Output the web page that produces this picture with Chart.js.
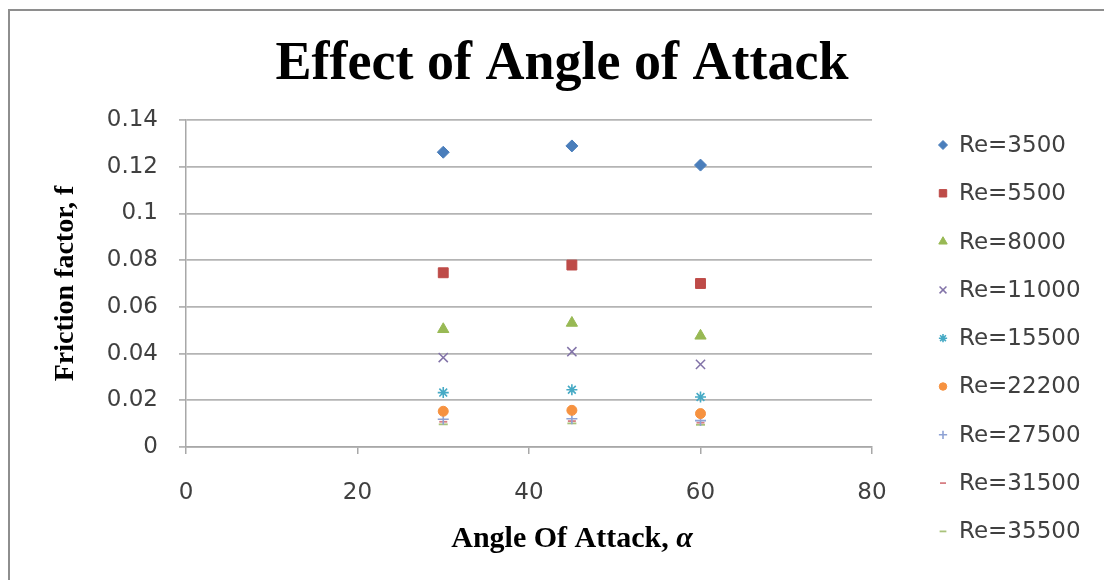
<!DOCTYPE html>
<html>
<head>
<meta charset="utf-8">
<title>Effect of Angle of Attack</title>
<script src="https://cdn.jsdelivr.net/npm/chart.js@4/dist/chart.umd.min.js"></script>
<style>
  html, body { margin: 0; padding: 0; background: #ffffff; }
  #wrap { position: relative; width: 1104px; height: 580px; overflow: hidden; background: #ffffff; }
  #wrap canvas { position: absolute; left: 0; top: 0; }
  #frame {
    position: absolute; left: 8px; top: 9px; right: -10px; bottom: -10px;
    border-top: 2px solid #8e8e8e; border-left: 2px solid #8e8e8e;
    pointer-events: none;
  }
</style>
</head>
<body>
<div id="wrap">
  <canvas id="chart" width="1104" height="580"></canvas>
  <div id="frame"></div>
</div>
<script>
// Angle of attack (degrees) on the x axis
const angles = [30, 45, 60];

// Series names (Reynolds number)
const seriesNames = ['Re=3500', 'Re=5500', 'Re=8000', 'Re=11000', 'Re=15500',
                     'Re=22200', 'Re=27500', 'Re=31500', 'Re=35500'];

// Friction factor f at each angle, one array per Reynolds number
const fRe3500  = [0.1262, 0.1289, 0.1207];
const fRe5500  = [0.0746, 0.0779, 0.0700];
const fRe8000  = [0.0504, 0.0531, 0.0476];
const fRe11000 = [0.0383, 0.0408, 0.0354];
const fRe15500 = [0.0233, 0.0245, 0.0214];
const fRe22200 = [0.0153, 0.0157, 0.0143];
const fRe27500 = [0.0119, 0.0121, 0.0113];
const fRe31500 = [0.0108, 0.0111, 0.0104];
const fRe35500 = [0.0097, 0.0101, 0.0095];

// Axis tick labels
const yTickLabels = ['0', '0.02', '0.04', '0.06', '0.08', '0.1', '0.12', '0.14'];
const xTickLabels = ['0', '20', '40', '60', '80'];

// Marker look for each series
const seriesValues = [fRe3500, fRe5500, fRe8000, fRe11000, fRe15500, fRe22200, fRe27500, fRe31500, fRe35500];
const markerStyles = ['rectRot', 'rect', 'triangle', 'crossRot', 'star', 'circle', 'cross', 'line', 'line'];
const markerColors = ['#4a7ebb', '#be4b48', '#98b954', '#8273a8', '#46aac5', '#f69240', '#8ea2d4', '#d77f84', '#a9c27a'];
const markerSizes  = [6, 7, 6.5, 6.5, 5.5, 5, 5.5, 4, 4.5];
const markerLines  = [1, 1, 1, 1.5, 1.6, 1, 1.6, 1.8, 1.8];

const datasets = seriesNames.map((name, i) => ({
  label: name,
  data: angles.map((a, j) => ({ x: a, y: seriesValues[i][j] })),
  pointStyle: markerStyles[i],
  pointRadius: markerSizes[i],
  pointHoverRadius: markerSizes[i],
  backgroundColor: markerColors[i],
  borderColor: markerColors[i],
  pointBorderWidth: markerLines[i],
  showLine: false
}));

const SERIF = "'Liberation Serif', 'Times New Roman', serif";
const SANS = "'DejaVu Sans', 'Open Sans', sans-serif";

// Chart title, axis titles and the legend column
const decorations = {
  id: 'decorations',
  afterDraw(chart) {
    const ctx = chart.ctx;
    const area = chart.chartArea;
    ctx.save();
    ctx.fillStyle = '#000000';

    // main title
    ctx.font = 'bold 54px ' + SERIF;
    ctx.textAlign = 'center';
    ctx.textBaseline = 'alphabetic';
    ctx.fillText('Effect of Angle of Attack', 562, 79);

    // x axis title, with an italic alpha
    const xMain = 'Angle Of Attack, ';
    const xSym = 'α';
    ctx.font = 'bold 30px ' + SERIF;
    const w1 = ctx.measureText(xMain).width;
    ctx.font = 'italic bold 30px ' + SERIF;
    const w2 = ctx.measureText(xSym).width;
    const xStart = 572 - (w1 + w2) / 2;
    ctx.textAlign = 'left';
    ctx.font = 'bold 30px ' + SERIF;
    ctx.fillText(xMain, xStart, 547);
    ctx.font = 'italic bold 30px ' + SERIF;
    ctx.fillText(xSym, xStart + w1, 547);

    // y axis title
    ctx.save();
    ctx.translate(66, (area.top + area.bottom) / 2);
    ctx.rotate(-Math.PI / 2);
    ctx.font = 'bold 28px ' + SERIF;
    ctx.textAlign = 'center';
    ctx.textBaseline = 'middle';
    ctx.fillText('Friction factor, f', 0, 0);
    ctx.restore();

    // legend
    const drawPoint = Chart.helpers && Chart.helpers.drawPoint;
    chart.data.datasets.forEach((ds, i) => {
      const cy = 145 + i * 48.3;
      if (drawPoint) {
        ctx.save();
        ctx.fillStyle = ds.backgroundColor;
        ctx.strokeStyle = ds.borderColor;
        ctx.lineWidth = ds.pointBorderWidth;
        drawPoint(ctx, {
          pointStyle: ds.pointStyle,
          rotation: 0,
          radius: Math.max(3, ds.pointRadius * 0.75),
          borderWidth: ds.pointBorderWidth
        }, 943, cy);
        ctx.restore();
      }
      ctx.fillStyle = '#404040';
      ctx.font = '23px ' + SANS;
      ctx.textAlign = 'left';
      ctx.textBaseline = 'middle';
      ctx.fillText(ds.label, 959, cy + 1);
    });
    ctx.restore();
  }
};

function zeroPadding(scale) {
  scale.paddingLeft = 0;
  scale.paddingRight = 0;
  scale.paddingTop = 0;
  scale.paddingBottom = 0;
}

new Chart(document.getElementById('chart'), {
  type: 'scatter',
  data: { datasets },
  options: {
    responsive: false,
    animation: false,
    devicePixelRatio: 1,
    layout: { padding: { left: 0, top: 120, right: 232, bottom: 0 } },
    plugins: {
      legend: { display: false },
      title: { display: false },
      tooltip: { enabled: false }
    },
    scales: {
      x: {
        type: 'linear',
        min: 0,
        max: 80,
        afterFit(scale) { scale.height = 133; zeroPadding(scale); },
        afterBuildTicks(scale) { scale.ticks = xTickLabels.map(t => ({ value: Number(t) })); },
        ticks: {
          stepSize: 20,
          padding: 25,
          color: '#404040',
          font: { family: SANS, size: 23 },
          callback: (v) => xTickLabels[xTickLabels.indexOf(String(v))]
        },
        grid: {
          drawOnChartArea: false,
          drawTicks: true,
          tickLength: 7,
          color: '#a8a8a8',
          lineWidth: 1.5
        },
        border: { display: true, color: '#a8a8a8', width: 1.5 }
      },
      y: {
        type: 'linear',
        min: 0,
        max: 0.14,
        afterFit(scale) { scale.width = 186; zeroPadding(scale); },
        afterBuildTicks(scale) { scale.ticks = yTickLabels.map(t => ({ value: Number(t) })); },
        ticks: {
          stepSize: 0.02,
          padding: 21,
          color: '#404040',
          font: { family: SANS, size: 23 },
          callback: (v, i) => yTickLabels[i]
        },
        grid: {
          drawOnChartArea: true,
          drawTicks: true,
          tickLength: 7,
          color: '#b4b4b4',
          lineWidth: 1.8
        },
        border: { display: true, color: '#a8a8a8', width: 1.5 }
      }
    }
  },
  plugins: [decorations]
});
</script>
</body>
</html>
